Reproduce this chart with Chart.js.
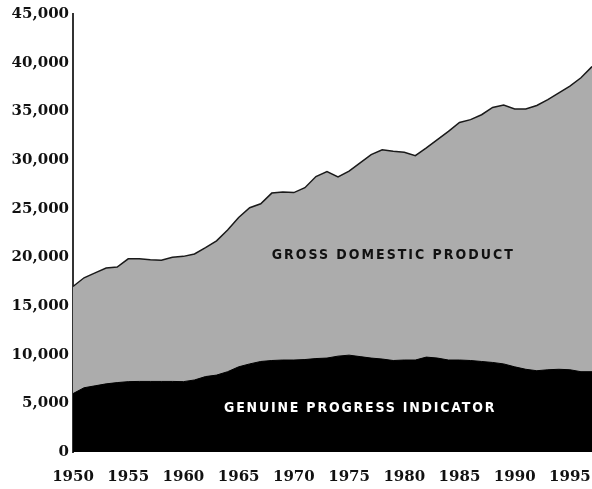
<!DOCTYPE html>
<html>
<head>
<meta charset="utf-8">
<script src="https://cdn.jsdelivr.net/npm/chart.js@4/dist/chart.umd.min.js"></script>
<style>
html,body{margin:0;padding:0;background:#fff;}
#wrap{width:592px;height:489px;}
</style>
</head>
<body>
<div id="wrap"><canvas id="c" width="592" height="489"></canvas></div>
<script>
const years = [1950,1951,1952,1953,1954,1955,1956,1957,1958,1959,
  1960,1961,1962,1963,1964,1965,1966,1967,1968,1969,
  1970,1971,1972,1973,1974,1975,1976,1977,1978,1979,
  1980,1981,1982,1983,1984,1985,1986,1987,1988,1989,
  1990,1991,1992,1993,1994,1995,1996,1997];
const gdp = [17000,17900,18400,18900,19000,19850,19850,19750,19700,20000,
  20100,20350,21000,21700,22800,24100,25100,25500,26600,26700,
  26650,27150,28300,28800,28250,28850,29700,30550,31050,30900,
  30800,30450,31250,32100,32950,33850,34150,34650,35400,35650,
  35250,35250,35600,36200,36900,37600,38450,39600];
const gpi = [6000,6600,6800,7000,7130,7230,7250,7250,7250,7250,
  7230,7400,7750,7900,8250,8750,9050,9300,9400,9450,
  9450,9500,9600,9650,9850,9950,9800,9650,9550,9400,
  9450,9450,9750,9650,9450,9450,9400,9300,9200,9050,
  8750,8500,8350,8450,8500,8450,8250,8250];
const yTicksMax = 45000;
const yStep = 5000;
const labelGDP = "GROSS DOMESTIC PRODUCT";
const labelGPI = "GENUINE PROGRESS INDICATOR";

const textPlugin = {
  id: 'areaLabels',
  afterDatasetsDraw(chart) {
    const ctx = chart.ctx;
    const xs = chart.scales.x, ys = chart.scales.y;
    function draw(txt, year, val, color, spacing) {
      const px = xs.getPixelForValue(years.indexOf(year));
      const py = ys.getPixelForValue(val);
      ctx.save();
      ctx.font = 'bold 14px "DejaVu Sans Condensed", "DejaVu Sans", sans-serif';
      ctx.letterSpacing = spacing + 'px';
      ctx.fillStyle = color;
      ctx.textAlign = 'center';
      ctx.textBaseline = 'middle';
      ctx.fillText(txt, px, py);
      ctx.restore();
    }
    draw(labelGDP, 1979, 20200, '#111', 2);
    draw(labelGPI, 1976, 4500, '#fff', 1.8);
  }
};

new Chart(document.getElementById('c'), {
  type: 'line',
  data: {
    labels: years,
    datasets: [
      { label: 'GPI', data: gpi, fill: 'origin', backgroundColor: '#000', borderColor: '#000', borderWidth: 1, pointRadius: 0, tension: 0 },
      { label: 'GDP', data: gdp, fill: 'origin', backgroundColor: '#acacac', borderColor: '#1a1a1a', borderWidth: 1.5, pointRadius: 0, tension: 0 }
    ]
  },
  options: {
    responsive: false,
    devicePixelRatio: 1,
    animation: false,
    layout: { padding: { top: 14, right: 0, left: 0, bottom: 0 } },
    plugins: { legend: { display: false }, tooltip: { enabled: false } },
    scales: {
      x: {
        offset: false,
        grid: { display: false, drawTicks: false },
        border: { display: false },
        ticks: {
          autoSkip: false, maxRotation: 0, padding: 16, color: '#111',
          font: { family: '"DejaVu Serif", serif', size: 15, weight: 'bold' },
          callback: function(v, i) { const yr = years[i]; return yr % 5 === 0 ? String(yr) : ''; }
        },
        afterFit(s) { s.height = 37; s.paddingRight = 0; s.paddingLeft = 0; }
      },
      y: {
        min: 0, max: yTicksMax,
        grid: { display: false, drawTicks: false },
        border: { display: true, color: '#333', width: 2 },
        ticks: {
          stepSize: yStep, padding: 4, color: '#111',
          font: { family: '"DejaVu Serif", serif', size: 15, weight: 'bold' },
          callback: v => v.toLocaleString('en-US')
        },
        afterFit(s) { s.width = 73; }
      }
    }
  },
  plugins: [textPlugin]
});
</script>
</body>
</html>
